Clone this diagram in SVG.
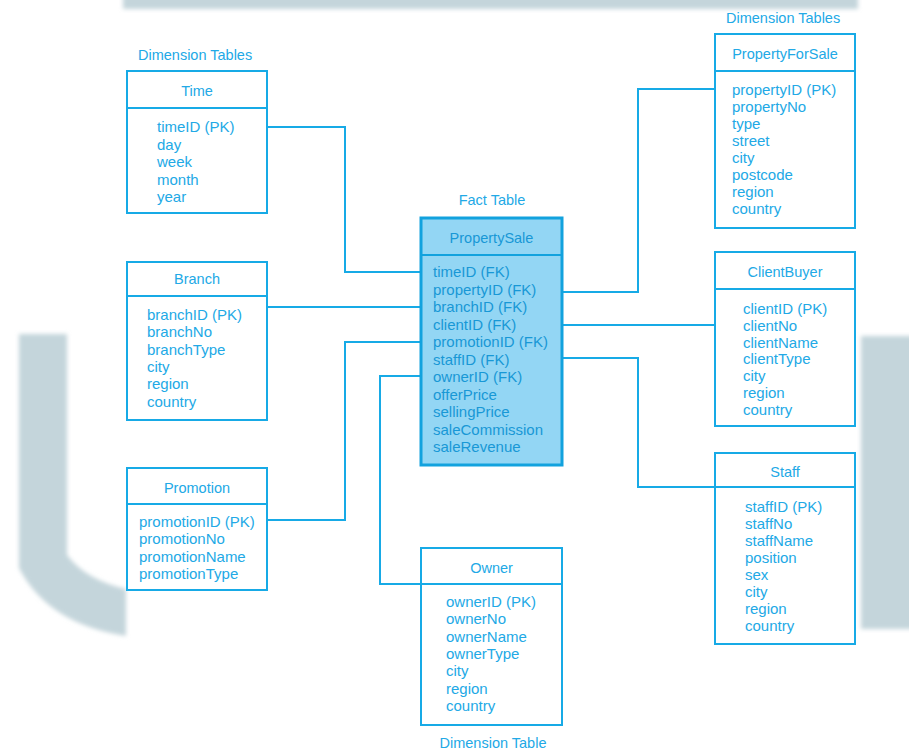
<svg xmlns="http://www.w3.org/2000/svg" width="909" height="751" viewBox="0 0 909 751">
  <style>
    .box { fill: #ffffff; stroke: #17aae6; stroke-width: 2; }
    .fact { fill: #93d6f4; stroke: #12a2de; stroke-width: 3; }
    .div { stroke: #17aae6; stroke-width: 2; }
    .divf { stroke: #12a2de; stroke-width: 2; }
    .conn { fill: none; stroke: #17aae6; stroke-width: 2; }
    text { font-family: "Liberation Sans", Arial, sans-serif; font-size: 15px; fill: #22a9e6; }
    .title { text-anchor: middle; font-size: 14.5px; }
    .label { font-size: 14.5px; }
    .ft { fill: #1898d6; }
    .bg { fill: #c4d5db; filter: url(#soft); }
  </style>
  <defs>
    <filter id="soft" x="-20%" y="-20%" width="140%" height="140%">
      <feGaussianBlur stdDeviation="2"/>
    </filter>
  </defs>

  <rect width="909" height="751" fill="#ffffff"/>

  <!-- faint background shapes -->
  <g id="backdrop">
    <rect class="bg" x="123" y="-10" width="735" height="19"/>
    <path class="bg" d="M 19 334 L 67 334 L 67 555 Q 86 580 126 589 L 126 636 Q 48 624 19 568 Z"/>
    <rect class="bg" x="861" y="336" width="60" height="293"/>
  </g>

  <!-- group labels -->
  <g id="labels">
    <text class="label" x="138" y="60">Dimension Tables</text>
    <text class="label" x="726" y="23">Dimension Tables</text>
    <text class="label title" x="492" y="205">Fact Table</text>
    <text class="label title" x="493" y="748">Dimension Table</text>
  </g>

  <!-- connectors -->
  <g id="connectors">
    <polyline class="conn" points="267,127 345,127 345,272 421,272"/>
    <polyline class="conn" points="267,307 421,307"/>
    <polyline class="conn" points="267,520 345,520 345,342 421,342"/>
    <polyline class="conn" points="421,376 380,376 380,584 421,584"/>
    <polyline class="conn" points="562,292 638,292 638,89 715,89"/>
    <polyline class="conn" points="562,325 715,325"/>
    <polyline class="conn" points="562,358 638,358 638,487 715,487"/>
  </g>

  <g id="time">
    <rect class="box" x="127" y="71" width="140" height="142"/>
    <line class="div" x1="127" y1="108" x2="267" y2="108"/>
    <text class="title" x="197" y="96">Time</text>
    <text x="157" y="132">timeID (PK)</text>
    <text x="157" y="149.5">day</text>
    <text x="157" y="167">week</text>
    <text x="157" y="184.5">month</text>
    <text x="157" y="202">year</text>
  </g>

  <g id="branch">
    <rect class="box" x="127" y="262" width="140" height="158"/>
    <line class="div" x1="127" y1="296" x2="267" y2="296"/>
    <text class="title" x="197" y="284">Branch</text>
    <text x="147" y="320">branchID (PK)</text>
    <text x="147" y="337.3">branchNo</text>
    <text x="147" y="354.6">branchType</text>
    <text x="147" y="371.9">city</text>
    <text x="147" y="389.2">region</text>
    <text x="147" y="406.5">country</text>
  </g>

  <g id="promotion">
    <rect class="box" x="127" y="468" width="140" height="122"/>
    <line class="div" x1="127" y1="504" x2="267" y2="504"/>
    <text class="title" x="197" y="493">Promotion</text>
    <text x="139" y="527">promotionID (PK)</text>
    <text x="139" y="544.3">promotionNo</text>
    <text x="139" y="561.6">promotionName</text>
    <text x="139" y="578.9">promotionType</text>
  </g>

  <g id="propertySale">
    <rect class="fact" x="421" y="218" width="141" height="247"/>
    <line class="divf" x1="421" y1="255" x2="562" y2="255"/>
    <text class="title ft" x="491.5" y="243">PropertySale</text>
    <text class="ft" x="433" y="277">timeID (FK)</text>
    <text class="ft" x="433" y="294.5">propertyID (FK)</text>
    <text class="ft" x="433" y="312">branchID (FK)</text>
    <text class="ft" x="433" y="329.5">clientID (FK)</text>
    <text class="ft" x="433" y="347">promotionID (FK)</text>
    <text class="ft" x="433" y="364.5">staffID (FK)</text>
    <text class="ft" x="433" y="382">ownerID (FK)</text>
    <text class="ft" x="433" y="399.5">offerPrice</text>
    <text class="ft" x="433" y="417">sellingPrice</text>
    <text class="ft" x="433" y="434.5">saleCommission</text>
    <text class="ft" x="433" y="452">saleRevenue</text>
  </g>

  <g id="propertyForSale">
    <rect class="box" x="715" y="34" width="140" height="194"/>
    <line class="div" x1="715" y1="71" x2="855" y2="71"/>
    <text class="title" x="785" y="59">PropertyForSale</text>
    <text x="732" y="95">propertyID (PK)</text>
    <text x="732" y="112">propertyNo</text>
    <text x="732" y="129">type</text>
    <text x="732" y="146">street</text>
    <text x="732" y="163">city</text>
    <text x="732" y="180">postcode</text>
    <text x="732" y="197">region</text>
    <text x="732" y="214">country</text>
  </g>

  <g id="clientBuyer">
    <rect class="box" x="715" y="252" width="140" height="174"/>
    <line class="div" x1="715" y1="289" x2="855" y2="289"/>
    <text class="title" x="785" y="277">ClientBuyer</text>
    <text x="743" y="314">clientID (PK)</text>
    <text x="743" y="330.8">clientNo</text>
    <text x="743" y="347.6">clientName</text>
    <text x="743" y="364.4">clientType</text>
    <text x="743" y="381.2">city</text>
    <text x="743" y="398">region</text>
    <text x="743" y="414.8">country</text>
  </g>

  <g id="staff">
    <rect class="box" x="715" y="453" width="140" height="191"/>
    <line class="div" x1="715" y1="487" x2="855" y2="487"/>
    <text class="title" x="785" y="477">Staff</text>
    <text x="745" y="512">staffID (PK)</text>
    <text x="745" y="529">staffNo</text>
    <text x="745" y="546">staffName</text>
    <text x="745" y="563">position</text>
    <text x="745" y="580">sex</text>
    <text x="745" y="597">city</text>
    <text x="745" y="614">region</text>
    <text x="745" y="631">country</text>
  </g>

  <g id="owner">
    <rect class="box" x="421" y="548" width="141" height="177"/>
    <line class="div" x1="421" y1="584" x2="562" y2="584"/>
    <text class="title" x="491.5" y="573">Owner</text>
    <text x="446" y="607">ownerID (PK)</text>
    <text x="446" y="624.3">ownerNo</text>
    <text x="446" y="641.6">ownerName</text>
    <text x="446" y="658.9">ownerType</text>
    <text x="446" y="676.2">city</text>
    <text x="446" y="693.5">region</text>
    <text x="446" y="710.8">country</text>
  </g>
</svg>
